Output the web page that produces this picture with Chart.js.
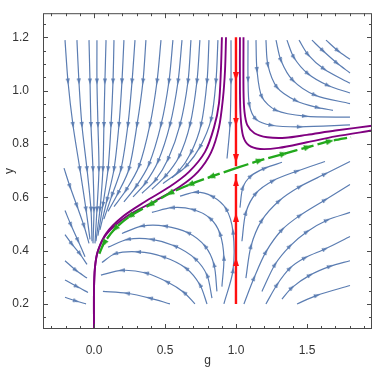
<!DOCTYPE html>
<html>
<head>
<meta charset="utf-8">
<script src="https://cdn.jsdelivr.net/npm/chart.js@4"></script>
<style>
html, body { margin: 0; padding: 0; background: #fff; }
canvas { display: block; }
</style>
</head>
<body>
<canvas id="chart" width="374" height="371"></canvas>
<script>
// axis ticks
const xMajor = [0, 0.5, 1, 1.5];
const yMajor = [0.2, 0.4, 0.6, 0.8, 1.0, 1.2];

// streamlines, each one listed in flow direction [g, y]
const topLeftStreams = [
  [[-0.204,1.189],[-0.183,1.034],[-0.148,0.871],[-0.099,0.705],[-0.056,0.554],[-0.028,0.442]],
  [[-0.120,1.189],[-0.106,1.034],[-0.085,0.871],[-0.049,0.705],[-0.021,0.554],[-0.014,0.435]],
  [[-0.035,1.189],[-0.028,1.034],[-0.021,0.871],[-0.007,0.705],[0,0.554],[-0.007,0.427]],
  [[0.021,1.189],[0.021,1.034],[0.028,0.871],[0.035,0.705],[0.021,0.554],[0.007,0.427]],
  [[0.085,1.189],[0.077,1.034],[0.070,0.871],[0.063,0.705],[0.042,0.554],[0.014,0.435]],
  [[0.141,1.189],[0.134,1.034],[0.120,0.871],[0.099,0.705],[0.063,0.572],[0.028,0.456]],
  [[0.211,1.189],[0.197,1.034],[0.176,0.871],[0.141,0.705],[0.092,0.590],[0.042,0.478]],
  [[0.289,1.189],[0.268,1.034],[0.239,0.871],[0.190,0.705],[0.127,0.608],[0.070,0.518]],
  [[0.366,1.189],[0.345,1.034],[0.303,0.871],[0.246,0.705],[0.169,0.615],[0.099,0.547]],
  [[0.472,1.189],[0.444,1.034],[0.394,0.871],[0.317,0.716],[0.225,0.626],[0.141,0.565]],
  [[0.556,1.189],[0.528,1.034],[0.472,0.871],[0.387,0.723],[0.296,0.640],[0.211,0.583]],
  [[0.620,1.189],[0.592,1.034],[0.535,0.871],[0.451,0.734],[0.359,0.651],[0.275,0.601]],
  [[0.683,1.189],[0.662,1.034],[0.606,0.871],[0.521,0.742],[0.430,0.662],[0.338,0.615]],
  [[0.746,1.189],[0.725,1.034],[0.676,0.871],[0.599,0.752],[0.500,0.677],[0.408,0.630]],
  [[0.810,1.189],[0.796,1.034],[0.754,0.871],[0.683,0.767],[0.592,0.695],[0.486,0.651]],
  [[0.873,1.189],[0.859,1.034],[0.824,0.890],[0.746,0.788],[0.648,0.716],[0.549,0.673]],
  [[0.965,1.189],[0.965,1.034],[0.958,0.871],[0.937,0.745]]
];

const topRightStreams = [
  [[1.085,1.189],[1.085,1.041],[1.095,0.945],[1.140,0.893],[1.250,0.870],[1.450,0.864],[1.803,0.871]],
  [[1.141,1.189],[1.148,1.077],[1.183,0.976],[1.282,0.926],[1.486,0.904],[1.803,0.900]],
  [[1.211,1.189],[1.225,1.095],[1.289,1.012],[1.423,0.962],[1.577,0.936],[1.683,0.926]],
  [[1.282,1.189],[1.317,1.113],[1.401,1.038],[1.556,0.983],[1.803,0.951]],
  [[1.359,1.189],[1.408,1.124],[1.507,1.063],[1.648,1.019],[1.803,0.991]],
  [[1.444,1.189],[1.507,1.135],[1.620,1.081],[1.803,1.027]],
  [[1.535,1.189],[1.613,1.149],[1.711,1.103],[1.803,1.066]],
  [[1.634,1.189],[1.718,1.149],[1.803,1.117]]
];

const lowerLeftStreams = [
  [[-0.211,0.709],[-0.169,0.640],[-0.120,0.568],[-0.070,0.492],[-0.035,0.427]],
  [[-0.204,0.550],[-0.162,0.496],[-0.113,0.438],[-0.063,0.377]],
  [[-0.204,0.460],[-0.155,0.424],[-0.099,0.388],[-0.049,0.348]],
  [[-0.204,0.362],[-0.127,0.326],[-0.049,0.297]],
  [[-0.204,0.290],[-0.120,0.265],[-0.042,0.243]],
  [[-0.204,0.225],[-0.127,0.211],[-0.056,0.200]]
];

const lowerArcs = [
  [[0.915,0.200],[0.979,0.326],[0.979,0.471],[0.930,0.557],[0.831,0.604],[0.718,0.619],[0.606,0.604]],
  [[0.901,0.265],[0.915,0.373],[0.887,0.464],[0.817,0.521],[0.697,0.554],[0.549,0.561],[0.408,0.543]],
  [[0.866,0.247],[0.845,0.348],[0.782,0.417],[0.662,0.467],[0.500,0.492],[0.338,0.492],[0.197,0.464]],
  [[0.831,0.222],[0.796,0.308],[0.711,0.370],[0.570,0.417],[0.408,0.442],[0.239,0.442],[0.099,0.413]],
  [[0.796,0.200],[0.746,0.272],[0.648,0.334],[0.486,0.377],[0.310,0.395],[0.148,0.388],[0.056,0.355]],
  [[0.711,0.200],[0.634,0.243],[0.514,0.283],[0.366,0.316],[0.197,0.326],[0.049,0.308]],
  [[0.535,0.200],[0.394,0.222],[0.232,0.240],[0.063,0.247]]
];

const lowerRightStreams = [
  [[1.028,0.561],[1.049,0.637],[1.106,0.680],[1.204,0.709],[1.324,0.731]],
  [[1.042,0.435],[1.070,0.543],[1.141,0.615],[1.261,0.662],[1.430,0.698],[1.627,0.734]],
  [[1.070,0.297],[1.106,0.417],[1.183,0.514],[1.303,0.586],[1.451,0.640],[1.627,0.687],[1.803,0.734]],
  [[1.056,0.200],[1.127,0.297],[1.211,0.395],[1.324,0.478],[1.451,0.532],[1.627,0.590],[1.803,0.648]],
  [[1.183,0.247],[1.275,0.348],[1.380,0.417],[1.500,0.471],[1.641,0.514],[1.803,0.543]],
  [[1.211,0.200],[1.289,0.272],[1.380,0.334],[1.486,0.373],[1.627,0.406],[1.803,0.453]],
  [[1.324,0.218],[1.394,0.261],[1.521,0.308],[1.662,0.341],[1.803,0.362]],
  [[1.430,0.200],[1.570,0.232],[1.803,0.269]]
];

const purpleCurves = [
  [[0,0.106],[0,0.247],[0.007,0.337],[0.028,0.399],[0.085,0.464],[0.197,0.525],[0.359,0.583],[0.535,0.640],[0.669,0.695],[0.782,0.770],[0.845,0.861],[0.880,0.951],[0.894,1.077],[0.901,1.200]],
  [[0,0.106],[0,0.247],[0.007,0.337],[0.028,0.399],[0.092,0.464],[0.232,0.529],[0.430,0.586],[0.606,0.640],[0.732,0.695],[0.824,0.767],[0.880,0.861],[0.908,0.969],[0.923,1.077],[0.930,1.200]],
  [[1.028,1.200],[1.028,1.000],[1.033,0.900],[1.050,0.830],[1.090,0.795],[1.170,0.781],[1.300,0.785],[1.500,0.806],[1.700,0.828],[1.958,0.850]],
  [[1.053,1.200],[1.053,1.000],[1.060,0.920],[1.080,0.870],[1.130,0.840],[1.220,0.825],[1.350,0.823],[1.500,0.834],[1.700,0.850],[1.958,0.868]]
];

const greenLeft = [[1,0.709],[0.824,0.677],[0.676,0.648],[0.535,0.615],[0.394,0.572],[0.254,0.529],[0.148,0.482],[0.070,0.427],[0.035,0.384]];
const greenRight = [[1,0.709],[1.169,0.738],[1.338,0.763],[1.507,0.788],[1.662,0.810],[1.810,0.825]];
const redDown = [[1,1.2],[1,1.052],[1,0.882],[1,0.745],[1,0.716]];
const redUp = [[1,0.2],[1,0.359],[1,0.525],[1,0.658],[1,0.687]];

const BLUE = '#5b7db2';
const PURPLE = '#800080';
const GREEN = '#22a81c';
const RED = '#ff1010';
const FONT = '"Liberation Sans", Arial, sans-serif';

function arrowHead(color, w, h) {
    const c = document.createElement('canvas');
    c.width = w;
    c.height = h;
    const g = c.getContext('2d');
    g.fillStyle = color;
    g.beginPath();
    g.moveTo(w / 2, 0);
    g.lineTo(w, h);
    g.lineTo(0, h);
    g.closePath();
    g.fill();
    return c;
}

function inner(c) {
    return c.dataIndex !== undefined && c.dataIndex > 0 && c.dataIndex < c.dataset.data.length - 1;
}

// arrow direction follows the neighbouring points, in pixels
function heading(c) {
    if (c.dataIndex === undefined) return 0;
    const d = c.dataset.data;
    const i = c.dataIndex;
    const a = d[Math.max(i - 1, 0)];
    const b = d[Math.min(i + 1, d.length - 1)];
    const sx = c.chart.scales.x, sy = c.chart.scales.y;
    const dx = sx.getPixelForValue(b.x) - sx.getPixelForValue(a.x);
    const dy = sy.getPixelForValue(b.y) - sy.getPixelForValue(a.y);
    return Math.atan2(dx, -dy) * 180 / Math.PI;
}

function stream(pts, color, width, head, extra) {
    return Object.assign({
        data: pts.map(p => ({ x: p[0], y: p[1] })),
        showLine: true,
        borderColor: color,
        backgroundColor: color,
        borderWidth: width,
        tension: 0.3,
        pointRadius: c => (head && inner(c)) ? 3 : 0,
        pointStyle: head || 'circle',
        rotation: heading
    }, extra || {});
}

const blueHead = arrowHead(BLUE, 4, 6);
const redHead = arrowHead(RED, 6, 9);
const greenHead = arrowHead(GREEN, 6, 8);

const datasets = [];
datasets.push(stream(redDown, RED, 2.4, redHead));
datasets.push(stream(redUp, RED, 2.4, redHead));
datasets.push(stream(greenLeft, GREEN, 2.3, greenHead, { borderDash: [13, 4] }));
datasets.push(stream(greenRight, GREEN, 2.3, greenHead, { borderDash: [13, 4] }));
purpleCurves.forEach(p => datasets.push(stream(p, PURPLE, 1.9, null)));
[topLeftStreams, topRightStreams, lowerLeftStreams, lowerArcs, lowerRightStreams].forEach(group => {
    group.forEach(p => datasets.push(stream(p, BLUE, 1.2, blueHead)));
});

// frame with inward ticks on all four sides, and axis titles
const framePlugin = {
    id: 'frame',
    afterDraw(chart) {
        const { ctx, chartArea: a, scales: { x, y } } = chart;
        ctx.save();
        ctx.strokeStyle = '#4a4a4a';
        ctx.lineWidth = 1;
        ctx.strokeRect(a.left + 0.5, a.top + 0.5, a.right - a.left - 1, a.bottom - a.top - 1);
        ctx.beginPath();
        for (let i = -3; i <= 19; i++) {
            const v = i / 10;
            const len = (i % 5 === 0) ? 5 : 3;
            const px = Math.round(x.getPixelForValue(v)) + 0.5;
            ctx.moveTo(px, a.bottom); ctx.lineTo(px, a.bottom - len);
            ctx.moveTo(px, a.top); ctx.lineTo(px, a.top + len);
        }
        for (let i = 3; i <= 25; i++) {
            const v = i / 20;
            const len = (i % 4 === 0) ? 5 : 3;
            const py = Math.round(y.getPixelForValue(v)) + 0.5;
            ctx.moveTo(a.left, py); ctx.lineTo(a.left + len, py);
            ctx.moveTo(a.right, py); ctx.lineTo(a.right - len, py);
        }
        ctx.stroke();

        ctx.fillStyle = '#333';
        ctx.font = '12px ' + FONT;
        ctx.textAlign = 'center';
        ctx.textBaseline = 'middle';
        ctx.fillText('g', (a.left + a.right) / 2, 361);
        ctx.translate(10, (a.top + a.bottom) / 2);
        ctx.rotate(-Math.PI / 2);
        ctx.fillText('y', 0, 0);
        ctx.restore();
    }
};

new Chart(document.getElementById('chart'), {
    type: 'scatter',
    data: { datasets: datasets },
    plugins: [framePlugin],
    options: {
        responsive: false,
        animation: false,
        devicePixelRatio: 1,
        events: [],
        layout: { padding: { left: 0, top: 1, right: 2, bottom: 0 } },
        plugins: { legend: { display: false }, tooltip: { enabled: false } },
        scales: {
            x: {
                type: 'linear',
                min: -0.359,
                max: 1.958,
                grid: { display: false },
                border: { display: false },
                afterBuildTicks: s => { s.ticks = xMajor.map(v => ({ value: v })); },
                afterFit: s => { s.height = 42; },
                ticks: {
                    padding: 6,
                    color: '#333',
                    font: { family: FONT, size: 12 },
                    maxRotation: 0,
                    callback: v => Number(v).toFixed(1)
                }
            },
            y: {
                type: 'linear',
                min: 0.106,
                max: 1.290,
                grid: { display: false },
                border: { display: false },
                afterBuildTicks: s => { s.ticks = yMajor.map(v => ({ value: v })); },
                afterFit: s => { s.width = 43; },
                ticks: {
                    padding: 6,
                    color: '#333',
                    font: { family: FONT, size: 12 },
                    callback: v => Number(v).toFixed(1)
                }
            }
        }
    }
});
</script>
</body>
</html>
